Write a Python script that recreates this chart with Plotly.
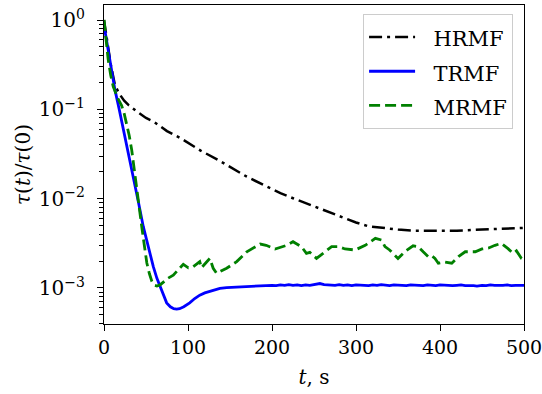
import plotly.graph_objects as go

# ---- data ----
t_hrmf = [0, 4, 8, 13, 18, 24, 29, 40, 50, 59, 75, 92, 100, 115, 136, 150, 170, 190,
          210, 225, 250, 281, 300, 315, 330, 350, 370, 394, 420, 450, 480, 500]
v_hrmf = [1.0, 0.54, 0.32, 0.187, 0.15, 0.125, 0.112, 0.093, 0.08, 0.073, 0.057, 0.047,
          0.042, 0.0345, 0.027, 0.0225, 0.0176, 0.0142, 0.0115, 0.0101, 0.0082, 0.0063,
          0.0054, 0.0049, 0.0047, 0.0045, 0.00438, 0.00434, 0.00437, 0.0045, 0.0046, 0.0047]

t_trmf = [0, 1.2, 5, 9, 13, 18, 24, 31, 36, 41, 46.8, 52, 58.7, 63, 66.7, 70.5, 74.6, 79,
          83, 86.5, 90, 95, 102, 108, 114, 120, 126, 132, 138, 146, 154, 165, 180, 190, 200,
          205, 210, 215, 220, 225, 230, 235, 240, 245, 250, 257, 262, 268, 275, 280, 285,
          290, 295, 300, 305, 310, 315, 320, 325, 330, 335, 340, 345, 350, 355, 360, 365,
          370, 375, 380, 385, 390, 395, 400, 405, 410, 415, 420, 425, 430, 435, 440, 444,
          450, 455, 460, 465, 470, 475, 480, 485, 490, 495, 500]
v_trmf = [0.82, 0.75, 0.46, 0.27, 0.166, 0.101, 0.055, 0.027, 0.0156, 0.0091, 0.00485,
          0.0030, 0.00173, 0.00128, 0.00103, 0.00083, 0.00068, 0.000615, 0.000585,
          0.000578, 0.000585, 0.000615, 0.00068, 0.00076, 0.00083, 0.00088, 0.00091,
          0.00095, 0.00099, 0.00101, 0.00102, 0.00104, 0.00105, 0.00106, 0.00107,
          0.00106, 0.00108, 0.00107, 0.00109, 0.00107, 0.00108, 0.00106, 0.00108, 0.00107,
          0.00109, 0.00112, 0.00109, 0.00108, 0.00107, 0.00109, 0.00107, 0.00108, 0.00106,
          0.00108, 0.00107, 0.00108, 0.00106, 0.00108, 0.00107, 0.00109, 0.00107, 0.00106,
          0.00108, 0.00107, 0.00108, 0.00106, 0.00108, 0.00107, 0.00108, 0.00106, 0.00108,
          0.00107, 0.00106, 0.00108, 0.00107, 0.00108, 0.00106, 0.00107, 0.00108, 0.00106,
          0.00107, 0.00106, 0.00105, 0.00107, 0.00106, 0.00108, 0.00107, 0.00106, 0.00107,
          0.00108, 0.00106, 0.00107, 0.00106, 0.00107]

t_mrmf = [0, 2, 5, 8, 11, 16, 21, 24, 27, 30, 33, 36, 39, 42, 45, 48, 51, 54, 57, 60, 63,
          66.7, 70.6, 76, 82.5, 88, 94.4, 100.4, 106, 114, 116, 126, 130, 134, 146, 158,
          170, 186, 193, 203.6, 217.5, 225, 235, 241, 245, 253, 261, 271, 279, 287, 299,
          311, 323, 330.6, 334.5, 340, 350, 358, 368, 374, 380, 386, 390, 394, 398, 406,
          414, 422, 430, 442, 450, 458, 465.5, 473, 481, 487, 491, 497, 500]
v_mrmf = [1.0, 0.62, 0.36, 0.24, 0.18, 0.135, 0.11, 0.09, 0.07, 0.051, 0.035, 0.0205,
          0.0125, 0.0078, 0.0048, 0.003, 0.0019, 0.00145, 0.00118, 0.00107, 0.00105,
          0.00108, 0.00117, 0.00128, 0.00139, 0.00158, 0.00184, 0.00168, 0.00172, 0.00197,
          0.00168, 0.00214, 0.00166, 0.00146, 0.00166, 0.00197, 0.00254, 0.0031, 0.0030,
          0.00273, 0.0030, 0.00329, 0.0029, 0.00244, 0.0025, 0.00214, 0.00244, 0.0029,
          0.0029, 0.00273, 0.00266, 0.0030, 0.00359, 0.00343, 0.0029, 0.00266, 0.00214,
          0.00254, 0.00296, 0.0029, 0.00254, 0.00224, 0.0023, 0.00214, 0.00189, 0.00195,
          0.00189, 0.00224, 0.00254, 0.00254, 0.00273, 0.0028, 0.0030, 0.00315, 0.00275,
          0.00244, 0.0026, 0.00214, 0.00205]

names = ["HRMF", "TRMF", "MRMF"]
y_tickvals = [1, 0.1, 0.01, 0.001]
y_ticktext = ["10<sup>0</sup>", "10<sup>−1</sup>", "10<sup>−2</sup>", "10<sup>−3</sup>"]
x_tickvals = [0, 100, 200, 300, 400, 500]

minor_vals = [m * 10 ** e for e in (-4, -3, -2, -1, 0) for m in range(2, 10)]

FONT = '"DejaVu Serif", serif'


def legend_name(s):
    return '<span style="font-size:21px">&nbsp;&nbsp;' + s + "</span>"


fig = go.Figure()
fig.add_trace(go.Scatter(x=t_hrmf, y=v_hrmf, mode="lines", name=legend_name(names[0]),
                         line=dict(color="black", width=2.5, dash="13px,5px,3px,5px")))
fig.add_trace(go.Scatter(x=t_trmf, y=v_trmf, mode="lines", name=legend_name(names[1]),
                         line=dict(color="#0000ff", width=2.8)))
fig.add_trace(go.Scatter(x=t_mrmf, y=v_mrmf, mode="lines", name=legend_name(names[2]),
                         line=dict(color="#008000", width=2.8, dash="11px,5px")))

fig.update_layout(
    width=542, height=394,
    margin=dict(l=104, r=18, t=5, b=70, autoexpand=False),
    paper_bgcolor="white", plot_bgcolor="white",
    font=dict(family=FONT, size=20, color="black"),
    showlegend=True,
    legend=dict(x=0.974, y=0.972, xanchor="right", yanchor="top",
                bgcolor="white", bordercolor="#cccccc", borderwidth=1,
                font=dict(family=FONT, size=24), tracegroupgap=0,
                itemwidth=46),
)
fig.update_xaxes(
    range=[0, 500], tickmode="array", tickvals=x_tickvals,
    tickfont=dict(family=FONT, size=19),
    showgrid=False, zeroline=False, showline=True, linecolor="black", linewidth=1.2,
    mirror=True, ticks="outside", ticklen=6, tickwidth=1.2, tickcolor="black",
    ticklabeloverflow="allow", automargin=False,
    title=dict(text="<i>t</i>, s", font=dict(family=FONT, size=20), standoff=13),
)
fig.update_yaxes(
    type="log", range=[-3.404, 0.168], tickmode="array",
    tickvals=y_tickvals, ticktext=y_ticktext,
    tickfont=dict(family=FONT, size=20),
    showgrid=False, zeroline=False, showline=True, linecolor="black", linewidth=1.2,
    mirror=True, ticks="outside", ticklen=6, tickwidth=1.2, tickcolor="black",
    ticklabelstandoff=8, ticklabeloverflow="allow", automargin=False,
    minor=dict(tickmode="array", tickvals=minor_vals, ticks="outside", ticklen=3.5,
               tickwidth=1, tickcolor="black", showgrid=False),
    title=dict(text="<i>τ</i>(<i>t</i>)/<i>τ</i>(0)", font=dict(family=FONT, size=20),
               standoff=2),
)

fig.write_html("out.html", config={"displayModeBar": False},
               post_script="document.body.style.margin='0';")
